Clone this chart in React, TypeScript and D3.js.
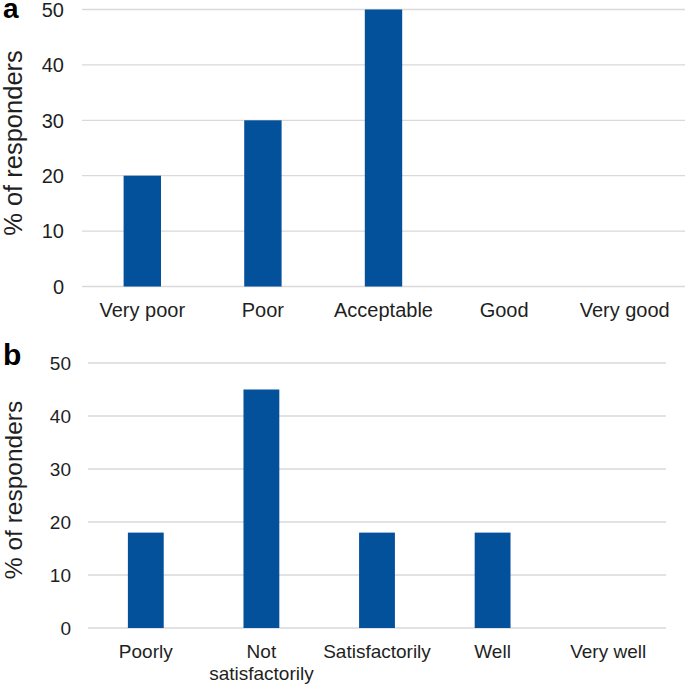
import React from "react";
import { scaleBand, scaleLinear } from "d3";

// panel a: rating of the service
const catsA = ["Very poor", "Poor", "Acceptable", "Good", "Very good"];
const valsA = [20, 30, 50, 0, 0];

// panel b: how well needs were met
const catsB = ["Poorly", "Not satisfactorily", "Satisfactorily", "Well", "Very well"];
const valsB = [18, 45, 18, 18, 0];

const yTicks = [0, 10, 20, 30, 40, 50];
const yTitle = "% of responders";

const BAR = "#03509b";
const GRID = "#d9d9d9";
const TXT = "#1f1f1f";
const FONT = "'Liberation Sans', Arial, sans-serif";

type PanelProps = {
  tag: string;
  tagY: number;
  tagSize: number;
  cats: string[];
  vals: number[];
  x0: number;
  x1: number;
  yBottom: number;
  yTop: number;
  tickRight: number;
  tickSize: number;
  labelSize: number;
  labelY: number;
  titleCy: number;
  titleSize: number;
};

function Panel(p: PanelProps) {
  const x = scaleBand<string>()
    .domain(p.cats)
    .range([p.x0, p.x1])
    .paddingInner(0.69)
    .paddingOuter(0.345);
  const y = scaleLinear().domain([0, 50]).range([p.yBottom, p.yTop]);

  return (
    <g>
      <text x={3} y={p.tagY} fontSize={p.tagSize} fontWeight="bold" fill="#000" fontFamily={FONT}>
        {p.tag}
      </text>
      <text
        transform={`translate(22,${p.titleCy}) rotate(-90)`}
        textAnchor="middle"
        fontSize={p.titleSize}
        fill={TXT}
        fontFamily={FONT}
      >
        {yTitle}
      </text>
      {yTicks.map((t) => (
        <g key={t}>
          <line x1={p.x0} x2={p.x1} y1={y(t)} y2={y(t)} stroke={GRID} strokeWidth={1.3} />
          <text
            x={p.tickRight}
            y={y(t)}
            dy="0.36em"
            textAnchor="end"
            fontSize={p.tickSize}
            fill={TXT}
            fontFamily={FONT}
          >
            {t}
          </text>
        </g>
      ))}
      {p.cats.map((c, i) => (
        <rect
          key={c}
          x={x(c)}
          y={y(p.vals[i])}
          width={x.bandwidth()}
          height={y(0) - y(p.vals[i])}
          fill={BAR}
        />
      ))}
      {p.cats.map((c) => {
        const cx = (x(c) ?? 0) + x.bandwidth() / 2;
        const words = c === "Not satisfactorily" ? ["Not", "satisfactorily"] : [c];
        return (
          <text
            key={c}
            x={cx}
            y={p.labelY}
            textAnchor="middle"
            fontSize={p.labelSize}
            fill={TXT}
            fontFamily={FONT}
          >
            {words.map((w, k) => (
              <tspan key={w} x={cx} dy={k === 0 ? 0 : 22}>
                {w}
              </tspan>
            ))}
          </text>
        );
      })}
    </g>
  );
}

export default function App() {
  return (
    <svg
      width={685}
      height={686}
      style={{ position: "absolute", left: 0, top: 0, background: "#fff" }}
    >
      <Panel
        tag="a"
        tagY={18}
        tagSize={28}
        cats={catsA}
        vals={valsA}
        x0={82}
        x1={685}
        yBottom={286.5}
        yTop={9.5}
        tickRight={64}
        tickSize={20}
        labelSize={20}
        labelY={317}
        titleCy={143}
        titleSize={25.5}
      />
      <Panel
        tag="b"
        tagY={365}
        tagSize={30}
        cats={catsB}
        vals={valsB}
        x0={88}
        x1={666}
        yBottom={628}
        yTop={363}
        tickRight={71}
        tickSize={19}
        labelSize={19}
        labelY={658}
        titleCy={490}
        titleSize={24.5}
      />
    </svg>
  );
}
